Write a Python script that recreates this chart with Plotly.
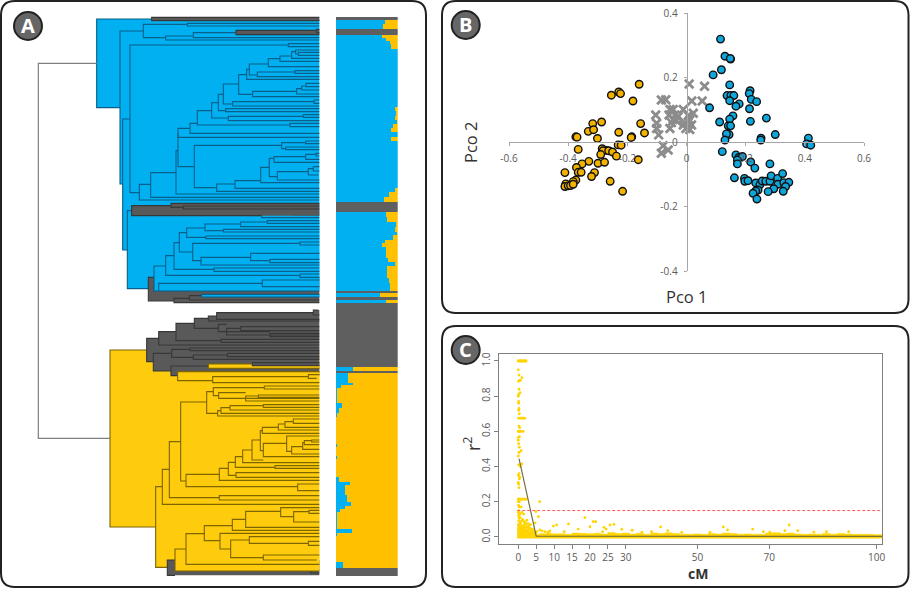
import plotly.graph_objects as go

W, H = 910, 589
TIP = 958
LOWER = 870  # brackets of the lower half were read with this vertical offset

# ---------- Panel A: dendrogram brackets (depth, y_top, y_bottom, child_depth_top, child_depth_bottom)
root_link = [(115, 190, 1315, 290, 330)]

blue_main = [
    (290, 57, 323, 455, 360), (360, 93, 552, 430, 368), (368, 357, 750, 390, 382),
    (430, 73, 113, 562, 497), (562, 70, 78, TIP, TIP), (497, 108, 120, 580, TIP), (580, 98, 113, 708, TIP),
    (390, 135, 578, 865, 418), (865, 131, 140, TIP, TIP), (418, 553, 600, 452, TIP), (452, 518, 592, 528, TIP),
    (528, 452, 582, 534, TIP), (534, 385, 500, 570, 583), (534, 400, 412, 534, TIP),
    (570, 370, 400, 592, TIP), (592, 332, 375, 635, 870), (870, 370, 380, TIP, TIP),
    (635, 308, 354, 655, 685), (685, 349, 362, 910, TIP), (910, 344, 352, TIP, TIP),
    (655, 283, 332, 670, 677), (677, 326, 335, TIP, TIP), (670, 252, 312, 716, 698),
    (698, 305, 318, 942, TIP), (942, 300, 310, TIP, TIP), (716, 224, 283, 740, 758),
    (758, 274, 290, 890, TIP), (890, 266, 282, 905, TIP), (905, 258, 270, 918, TIP), (918, 250, 260, TIP, TIP),
    (740, 208, 238, 748, TIP), (748, 192, 225, 805, 772), (772, 216, 230, 885, TIP), (885, 212, 220, TIP, TIP),
    (805, 176, 200, 840, TIP), (840, 168, 184, 875, TIP), (875, 155, 175, 887, TIP),
    (887, 150, 162, TIP, 895), (895, 157, 166, TIP, TIP),
    (583, 436, 563, 845, 650), (845, 428, 446, 917, 857), (917, 423, 431, TIP, TIP), (857, 441, 449, TIP, TIP),
    (650, 552, 574, 705, TIP), (705, 542, 565, 782, TIP), (782, 502, 548, 808, TIP), (808, 475, 530, 822, 832),
    (822, 470, 487, 917, TIP), (917, 463, 478, 948, TIP), (948, 460, 468, TIP, TIP), (832, 515, 540, 925, TIP),
    (925, 506, 525, 940, 955), (940, 500, 513, TIP, TIP),
    (382, 632, 866, 395, 445), (785, 641, 653, 875, TIP), (875, 636, 645, TIP, TIP),
]
dark_upper = [
    (455, 52, 62, TIP, TIP), (708, 91, 104, 950, TIP), (950, 88, 98, TIP, TIP),
    (513, 610, 622, TIP, 550), (550, 618, 627, TIP, TIP), (395, 617, 647, 513, 785),
    (445, 832, 903, 462, 522), (522, 895, 908, 568, TIP), (568, 887, 900, 605, TIP),
]
blue_inner = [
    (462, 798, 873, 497, 476), (497, 767, 826, 522, 900), (900, 822, 832, TIP, TIP),
    (522, 728, 808, 538, 642), (642, 804, 814, TIP, TIP), (538, 698, 756, 560, 578),
    (560, 684, 712, 615, 618), (618, 708, 716, TIP, TIP), (615, 672, 692, 722, 670),
    (722, 666, 680, 802, TIP), (802, 662, 670, TIP, TIP), (670, 688, 696, TIP, TIP),
    (578, 730, 782, 900, 603), (900, 726, 735, TIP, TIP), (603, 772, 795, 752, TIP),
    (752, 760, 782, TIP, 810), (810, 778, 788, TIP, TIP),
    (476, 850, 873, 787, TIP), (787, 840, 860, TIP, TIP),
    (605, 883, 891, TIP, TIP),
]
yellow_main = [
    (330, 180, 711, 440, 467), (467, 590, 832, 487, 502), (487, 538, 643, 508, TIP),
    (508, 455, 623, 542, 658), (658, 617, 630, TIP, TIP), (542, 336, 573, 620, 558),
    (620, 305, 370, 640, 653), (640, 293, 317, 793, 656), (793, 288, 297, TIP, TIP),
    (656, 308, 325, 737, TIP), (737, 318, 333, 775, TIP), (775, 315, 322, TIP, TIP),
    (653, 362, 378, 663, TIP), (663, 353, 370, 690, TIP), (690, 347, 360, 790, TIP), (790, 344, 352, TIP, TIP),
    (558, 553, 590, 658, 893), (893, 582, 602, TIP, TIP), (658, 535, 571, 685, TIP), (685, 517, 556, 706, 708),
    (706, 500, 532, 728, 825), (825, 527, 535, TIP, TIP), (728, 480, 518, 756, TIP), (756, 450, 510, 781, 790),
    (781, 422, 482, 787, 790), (787, 412, 430, 835, TIP), (835, 402, 420, 855, TIP), (855, 395, 412, 880, TIP),
    (880, 387, 400, TIP, TIP), (790, 460, 500, 860, TIP), (860, 438, 484, TIP, 875), (875, 470, 492, 908, TIP),
    (908, 458, 478, 913, TIP), (913, 452, 464, 935, TIP), (935, 450, 456, TIP, TIP), (708, 548, 562, TIP, TIP),
]
dark_lower = [
    (502, 810, 856, 525, 525), (932, 840, 849, TIP, TIP),
    (440, 145, 215, 476, 460), (476, 125, 165, 528, TIP), (528, 100, 152, 583, 663), (583, 85, 115, 625, 655),
    (625, 78, 93, 650, TIP), (650, 68, 88, 940, TIP), (940, 60, 75, 955, TIP), (655, 103, 125, 680, 810),
    (680, 115, 135, 722, TIP), (722, 110, 122, TIP, TIP), (810, 130, 140, TIP, TIP), (663, 148, 157, TIP, TIP),
    (460, 190, 243, 515, 513), (515, 178, 202, 570, 580), (570, 174, 182, TIP, TIP), (580, 195, 208, 682, TIP),
    (682, 190, 200, TIP, TIP), (513, 228, 257, 625, 533),
]
yellow_inner = [
    (533, 245, 272, TIP, 638), (638, 260, 278, 925, TIP), (925, 254, 265, TIP, 950),
    (625, 222, 235, 757, TIP),
    (525, 777, 843, 558, TIP), (558, 731, 823, 613, TIP), (613, 707, 752, 697, 660), (697, 688, 721, 737, TIP),
    (737, 664, 712, 842, TIP), (842, 653, 680, TIP, 881), (881, 665, 696, 927, TIP), (927, 661, 670, TIP, TIP),
    (660, 730, 777, TIP, 692), (692, 750, 803, 748, 790), (748, 740, 760, TIP, 925), (925, 754, 766, TIP, TIP),
    (790, 795, 810, TIP, 950),
]
dark_tip = [(757, 218, 227, TIP, TIP)]

# ---------- Panel A: ancestry bars
row_edges = [52, 60, 72, 86, 104, 113, 122, 131, 148, 322, 332, 348, 360, 372, 385, 396, 412, 423, 565, 575, 590, 607,
             635, 650, 665, 680, 695, 705, 720, 730, 741, 775, 785, 797, 835, 850, 872, 880, 892, 900, 908, 1102, 1112,
             1120, 1150, 1155, 1165, 1210, 1225, 1240, 1250, 1332, 1342, 1368, 1376, 1430, 1445, 1455, 1485, 1505, 1517,
             1527, 1537, 1588, 1598, 1607, 1687, 1704, 1728]
row_grey = [1, 0, 0, 1, 0, 0, 0, 0, 0, 0, 0, 0, 0, 0, 0, 0, 0, 0, 0, 0, 0,
            1, 0, 0, 0, 0, 0, 0, 0, 0, 0, 0, 0, 0, 0, 0, 1, 0, 1, 0, 1, 0,
            1, 0, 0, 0, 0, 0, 0, 0, 0, 0, 0, 0, 0, 0, 0, 0, 0, 0,
            0, 0, 0, 0, 0, 0, 0, 1]
row_yellow = [0, .2, .245, 0, .25, .185, .13, .11, 0, .05, .02, .03, .01, .075, .11, 0, .11, 0, .03, .145, .22,
              0, .195, .175, .02, .05, .01, .075, .2, .255, .185, .16, .04, .175, .14, .12, 0, .29, 0, .185, 0, .72,
              0, .8, .73, .92, .98, .9, .95, .99, 1, .99, 1, .99, 1, .95, .78, .85, .82, .755, .85,
              .93, .985, .74, .98, 1, .88, 0]

# ---------- Panel B: principal coordinates
blue_x = [.115, .13, .149, .148, .118, .09, .146, .215, .212, .137, .15, .16, .219, .237, .146, .178, .167, .078, .213,
          .157, .146, .112, .216, .27, .141, .149, .144, .135, .13, .252, .251, .3, .412, .406, .42, .121, .167, .177,
          .189, .172, .172, .217, .231, .282, .162, .196, .197, .208, .234, .248, .256, .268, .282, .286, .308, .325,
          .309, .329, .346, .335, .295, .327, .276, .242, .234, .225, .238]
blue_y = [.32, .267, .258, .26, .225, .209, .178, .16, .151, .145, .145, .145, .133, .126, .129, .119, .112, .107, .104,
          .082, .072, .063, .065, .075, .051, .051, .024, .026, .007, .013, .007, .024, .013, -.005, -.009, -.029, -.039,
          -.047, -.044, -.055, -.067, -.061, -.08, -.067, -.11, -.112, -.121, -.119, -.126, -.132, -.12, -.121, -.121,
          -.104, -.112, -.097, -.13, -.125, -.124, -.137, -.144, -.152, -.153, -.148, -.151, -.158, -.176]
yellow_x = [-.16, -.229, -.223, -.254, -.181, -.287, -.317, -.332, -.314, -.155, -.142, -.229, -.185, -.374, -.301, -.366,
            -.231, -.221, -.285, -.27, -.282, -.263, -.25, -.237, -.29, -.163, -.33, -.299, -.277, -.353, -.372, -.366,
            -.356, -.311, -.321, -.411, -.258, -.216, -.374, -.383, -.408, -.411, -.4, -.392, -.383, -.187, -.37]
yellow_y = [.18, .156, .151, .146, .128, .063, .058, .034, .039, .058, .029, .031, .017, .017, .012, -.022, -.008, -.009,
            -.02, -.025, -.026, -.026, -.03, -.043, -.038, -.054, -.059, -.065, -.062, -.067, -.078, -.093, -.093, -.094,
            -.106, -.094, -.121, -.152, -.117, -.122, -.129, -.137, -.135, -.134, -.13, .015, .016]
grey_x = [.009, .061, -.085, -.07, .018, .053, -.056, -.045, -.011, -.104, .023, -.059, -.039, .006, -.045, -.028, .011,
          -.101, -.051, -.006, .017, -.101, -.056, -.002, .011, -.094, -.079, -.062, -.085, -.011, -.034]
grey_y = [.181, .174, .131, .132, .128, .128, .102, .102, .102, .085, .09, .085, .085, .083, .071, .08, .069, .059, .061,
          .061, .054, .043, .043, .043, .04, .023, -.011, -.024, -.034, .054, .067]
pco_ticks_x = [-.6, -.4, -.2, 0, .2, .4, .6]
pco_ticks_y = [-.4, -.2, 0, .2, .4]

# ---------- Panel C: linkage decay
ld_x = [0, .2, .4, .6, .8, 1, 1.2, 1.4, 1.6, 1.8, 2, 2.2,
        0, .2, .3, 1, .6, .1, .2, .1, .5, 0, .1, .1, .2, .1, .3,
        .1, .5, .9, 1.2, 1.5, 1.8, .2, .4, 0, .2, .4, .8, 1.4,
        0, .3, 0, .1, .3, .8, .2, 0, 1, .6, .1, .2, 0, .4, .3, 0, .1, .2,
        0, .2, .4, .6, .8, 1, 1.3, 1.6, 1.9, 2.2,
        0, .3, .1, .3, .8, .1, 5.95, 0, .2, .5, 1, 1.5, 4.9, .1, .4, 1.2, 2.4, 2, 5.6, .1, .5, 1.6, 3.4,
        .2, 1, 2, 3, 4.7, .8, 1.5, .2, 1.8, 2.6, 3.6, 4.4,
        0, .3, .6, 1.1, 1.4, .2, .9, 1.7, 2.2, 2.9, 3.3, 3.9, .5, 1.3, 2.4, 2.8, 4, 5.2, 6.6, 7.4,
        18.6, 20.9, 21.6, 20, 14, 9.8, 10.7, 6, 23.9, 24.5, 25.6, 26.7, 28.9, 31.8, 16.7, 39.7, 41.7, 37.2,
        57.2, 58.4, 65.4, 75.6, 74.4, 78, 86, 92.2, 82.5, 68.4, 70.2, 8.8, 8.2, 23.5, 12.8, 34.5, 45.6, 53.5]
ld_y = [1, 1, 1, 1, 1, 1, 1, 1, 1, 1, 1, 1,
        .95, .92, .89, .905, .89, .885, .84, .81, .82, .8, .77, .76, .73, .72, .7,
        .675, .675, .675, .675, .675, .675, .63, .62, .6, .6, .6, .6, .6,
        .565, .57, .55, .53, .51, .49, .48, .46, .415, .4, .41, .36, .35, .34, .33, .31, .3, .28,
        .215, .215, .215, .215, .215, .215, .215, .215, .215, .215,
        .2, .2, .18, .17, .17, .15, .2, .14, .13, .13, .14, .13, .144, .12, .11, .1, .095, .08, .115, .09, .08, .07, .07,
        .06, .06, .055, .05, .08, .05, .045, .04, .04, .04, .035, .03,
        .07, .065, .075, .062, .058, .105, .09, .085, .07, .06, .048, .045, .11, .095, .055, .075, .04, .03, .035, .03,
        .11, .087, .087, .058, .074, .062, .068, .04, .055, .045, .068, .072, .043, .038, .045, .057, .036, .03,
        .057, .04, .045, .068, .036, .036, .03, .03, .028, .03, .027, .035, .028, .03, .03, .028, .026, .026]
floor_x = [-.3, .5, 1, 2, 3, 4, 5, 6, 7, 8, 9, 11, 13, 15, 17, 19, 21, 23, 25, 27, 29, 31, 33, 35, 37, 39, 41, 43, 45, 47,
           49, 51, 53, 55, 57, 59, 61, 63, 65, 67, 69, 71, 73, 75, 77, 79, 81, 83, 85, 87, 89, 91, 93, 95, 97, 99, 101.5]
floor_y = [.06, .055, .05, .042, .036, .03, .016, .02, .018, .024, .018, .018, .015, .022, .021, .018, .021, .017, .026,
           .02, .022, .017, .021, .016, .023, .02, .024, .019, .016, .015, .017, .015, .02, .017, .022, .02, .016, .017,
           .016, .015, .022, .024, .02, .022, .017, .015, .017, .015, .02, .016, .02, .017, .015, .015, .015, .013, .012]
trend_x = [.2, 5, 101.5]
trend_y = [.445, .005, .003]
threshold = .15
cm_ticks = [0, 5, 10, 15, 20, 25, 30, 50, 70, 100]
r2_ticks = [0, .2, .4, .6, .8, 1]


# ---------- helpers
def px(x):
    return x / W


def py(y):
    return 1 - y / H


def fills(brackets, shift=0):
    xs, ys = [], []
    for x, t, b, _, _ in brackets:
        xs += [x, TIP, TIP, x, x, None]
        ys += [t + shift, t + shift, b + shift, b + shift, t + shift, None]
    return xs, ys


def paths(brackets, shift=0):
    xs, ys = [], []
    for x, t, b, xt, xb in brackets:
        xs += [xt, x, x, xb, None]
        ys += [t + shift, t + shift, b + shift, b + shift, None]
    return xs, ys


BLUE, DARK, YEL = "#00B0F0", "#595959", "#FFCC0D"
BLUE_L, DARK_L, YEL_L = "#0B5F8A", "#383838", "#7D6500"

fig = go.Figure()


def clade(brackets, fill, line, shift=0):
    fx, fy = fills(brackets, shift)
    fig.add_trace(go.Scatter(x=fx, y=fy, mode="lines", fill="toself", fillcolor=fill, line=dict(width=0),
                             hoverinfo="skip", showlegend=False, xaxis="x", yaxis="y"))
    lx, ly = paths(brackets, shift)
    fig.add_trace(go.Scatter(x=lx, y=ly, mode="lines", line=dict(color=line, width=1.1),
                             hoverinfo="skip", showlegend=False, xaxis="x", yaxis="y"))


clade(blue_main, BLUE, BLUE_L)
clade(dark_upper, DARK, DARK_L)
clade(blue_inner, BLUE, BLUE_L)
clade(yellow_main, YEL, YEL_L, LOWER)
clade(dark_lower, DARK, DARK_L, LOWER)
clade(yellow_inner, YEL, YEL_L, LOWER)
clade(dark_tip, DARK, DARK_L, LOWER)
lx, ly = paths(root_link)
fig.add_trace(go.Scatter(x=lx, y=ly, mode="lines", line=dict(color="#7F7F7F", width=1.2), hoverinfo="skip",
                         showlegend=False, xaxis="x", yaxis="y"))

# ancestry bars
row_mid = [(a + b) / 2 for a, b in zip(row_edges[:-1], row_edges[1:])]
row_h = [b - a for a, b in zip(row_edges[:-1], row_edges[1:])]
row_blue = [0 if g else 1 - v for g, v in zip(row_grey, row_yellow)]
for vals, col in ((row_blue, "#00B0F0"), (row_yellow, "#FFC000"), (row_grey, "#5F5F5F")):
    fig.add_trace(go.Bar(y=row_mid, x=vals, width=row_h, orientation="h", marker=dict(color=col, line=dict(width=0)),
                         showlegend=False, xaxis="x2", yaxis="y"))

# panel B
fig.add_trace(go.Scatter(x=grey_x, y=grey_y, mode="markers", showlegend=False, xaxis="x3", yaxis="y3",
                         marker=dict(symbol="x-thin", size=8.5, color="#8C8C8C", line=dict(color="#8C8C8C", width=2.8))))
fig.add_trace(go.Scatter(x=yellow_x, y=yellow_y, mode="markers", showlegend=False, xaxis="x3", yaxis="y3",
                         marker=dict(size=7.5, color="#F2B200", line=dict(color="#111111", width=1.4))))
fig.add_trace(go.Scatter(x=blue_x, y=blue_y, mode="markers", showlegend=False, xaxis="x3", yaxis="y3",
                         marker=dict(size=7.5, color="#0FA6DC", line=dict(color="#111111", width=1.4))))

# panel C
fig.add_trace(go.Scatter(x=floor_x, y=floor_y, mode="lines", line=dict(color="#FFD400", width=0.5, shape="hv"),
                         fill="tozeroy", fillcolor="#FFD400", showlegend=False, xaxis="x4", yaxis="y4"))
fig.add_trace(go.Scatter(x=[floor_x[0], floor_x[-1]], y=[0, 0], mode="lines", line=dict(color="#FFD400", width=3),
                         showlegend=False, xaxis="x4", yaxis="y4"))
fig.add_trace(go.Scatter(x=ld_x, y=ld_y, mode="markers", marker=dict(size=2.8, color="#FFD400"), showlegend=False,
                         xaxis="x4", yaxis="y4"))
fig.add_trace(go.Scatter(x=[floor_x[0], floor_x[-1]], y=[threshold, threshold], mode="lines",
                         line=dict(color="#FF5A5A", width=1, dash="3px,2px"), showlegend=False, xaxis="x4", yaxis="y4"))
fig.add_trace(go.Scatter(x=trend_x, y=trend_y, mode="lines", line=dict(color="#75703F", width=1.2), showlegend=False,
                         xaxis="x4", yaxis="y4"))


# panel frames and badges
def round_box(x0, y0, x1, y1, r=14):
    X0, X1, Y0, Y1 = px(x0), px(x1), py(y0), py(y1)
    rx, ry = r / W, r / H
    return (f"M {X0 + rx} {Y0} L {X1 - rx} {Y0} Q {X1} {Y0} {X1} {Y0 - ry} L {X1} {Y1 + ry} Q {X1} {Y1} {X1 - rx} {Y1} "
            f"L {X0 + rx} {Y1} Q {X0} {Y1} {X0} {Y1 + ry} L {X0} {Y0 - ry} Q {X0} {Y0} {X0 + rx} {Y0} Z")


shapes = [dict(type="path", xref="paper", yref="paper", path=round_box(*b), line=dict(color="#222222", width=2), layer="below")
          for b in [(1, 1, 426, 587), (442, 1, 908.5, 313), (442, 326, 908.5, 587)]]
annotations = []
for cx, cy, label in [(28, 26, "A"), (465.7, 25, "B"), (465.7, 350, "C")]:
    shapes.append(dict(type="circle", xref="paper", yref="paper", x0=px(cx - 14), x1=px(cx + 14), y0=py(cy + 14),
                       y1=py(cy - 14), fillcolor="#666666", line=dict(color="#222222", width=2)))
    annotations.append(dict(x=px(cx), y=py(cy), xref="paper", yref="paper", text=f"<b>{label}</b>", showarrow=False,
                            font=dict(family="Open Sans", size=20, color="white"), xanchor="center", yanchor="middle"))

for x, y, txt, size, angle in [(686.7, 296, "Pco 1", 16.5, 0), (471, 143, "Pco 2", 16.5, -90),
                               (697.7, 573, "<b>cM</b>", 14, 0), (472, 444, "r<sup>2</sup>", 18, -90)]:
    annotations.append(dict(x=px(x), y=py(y), xref="paper", yref="paper", text=txt, showarrow=False, textangle=angle,
                            font=dict(family="Open Sans", size=size, color="#333333"), xanchor="center", yanchor="middle"))

axis_b = dict(showgrid=False, zeroline=False, showline=True, linecolor="#A6A6A6", linewidth=1, ticks="outside", ticklen=3,
              tickcolor="#A6A6A6", tickfont=dict(family="Open Sans", size=10, color="#595959"), tickmode="array",
              automargin=False)
axis_c = dict(showgrid=False, zeroline=False, showline=True, mirror=True, linecolor="#808080", linewidth=1.4,
              ticks="outside", ticklen=4, tickcolor="#808080", tickfont=dict(family="Open Sans", size=10, color="#595959"),
              tickmode="array", automargin=False)

fig.update_layout(
    template="none", autosize=False,
    width=W, height=H, margin=dict(l=0, r=0, t=0, b=0, pad=0, autoexpand=False), paper_bgcolor="white",
    plot_bgcolor="rgba(0,0,0,0)",
    barmode="stack", bargap=0, showlegend=False, shapes=shapes, annotations=annotations,
    xaxis=dict(domain=[0, 430 / W], range=[0, 1290], visible=False, fixedrange=True, automargin=False),
    yaxis=dict(domain=[0, 1], range=[1767, 0], visible=False, fixedrange=True, automargin=False),
    xaxis2=dict(domain=[px(336), px(397.7)], range=[0, 1], visible=False, anchor="y", automargin=False),
    xaxis3=dict(domain=[px(509), px(864)], range=[-.6, .6], anchor="free", position=py(142.3), tickvals=pco_ticks_x,
                ticktext=["-0.6", "-0.4", "-0.2", "0", "0.2", "0.4", "0.6"], ticklabelstandoff=4, **axis_b),
    yaxis3=dict(domain=[py(271.3), py(13.3)], range=[-.4, .4], anchor="free", position=px(686.6), tickvals=pco_ticks_y,
                ticktext=["-0.4", "-0.2", "0", "0.2", "0.4"], ticklabelstandoff=4, **axis_b),
    xaxis4=dict(domain=[px(499.3), px(882)], range=[-5.3, 101.5], anchor="y4", tickvals=cm_ticks, **axis_c),
    yaxis4=dict(domain=[py(544), py(354.3)], range=[-.04, 1.038], anchor="x4", tickvals=r2_ticks, tickangle=-90,
                ticktext=["0.0", "0.2", "0.4", "0.6", "0.8", "1.0"], **axis_c),
)

fig.write_html("out.html", config={"displayModeBar": False},
               post_script="document.body.style.margin='0';document.body.style.overflow='hidden';")
